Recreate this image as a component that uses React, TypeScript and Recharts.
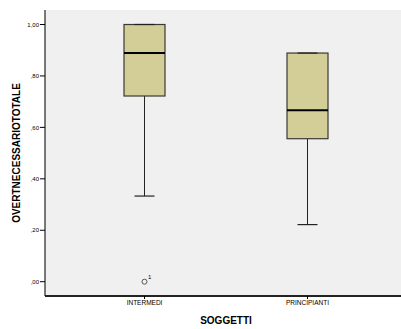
import { ComposedChart, Bar, XAxis, YAxis, CartesianGrid } from "recharts"

const categories = ["INTERMEDI", "PRINCIPIANTI"]
const minValues = [0.333, 0.222]
const q1Values = [0.722, 0.556]
const medianValues = [0.889, 0.667]
const q3Values = [1.0, 0.889]
const maxValues = [1.0, 0.889]
const outliers = [[{ value: 0, label: "1" }], []]
const yTicks = [0, 0.2, 0.4, 0.6, 0.8, 1.0]

const data = categories.map((name, i) => ({
  name,
  min: minValues[i],
  q1: q1Values[i],
  median: medianValues[i],
  q3: q3Values[i],
  max: maxValues[i],
  outliers: outliers[i],
}))

const font = "'Liberation Sans', Arial, sans-serif"

const formatTick = (v: number) => v.toFixed(2).replace(".", ",").replace(/^0/, "")

// the bar spans min..max; every other level is placed on the same pixel scale
function BoxShape(props: any) {
  const { x, y, width, height, payload } = props
  const span = payload.max - payload.min
  const perUnit = span > 0 ? height / span : 0
  const yOf = (v: number) => y + (payload.max - v) * perUnit
  const cx = x + width / 2
  const cap = 10
  return (
    <g>
      <line x1={cx} x2={cx} y1={yOf(payload.max)} y2={yOf(payload.q3)} stroke="#222" />
      <line x1={cx} x2={cx} y1={yOf(payload.q1)} y2={yOf(payload.min)} stroke="#222" />
      <line x1={cx - cap} x2={cx + cap} y1={yOf(payload.min)} y2={yOf(payload.min)} stroke="#222" strokeWidth={1.2} />
      <rect
        x={x}
        y={yOf(payload.q3)}
        width={width}
        height={yOf(payload.q1) - yOf(payload.q3)}
        fill="#d3ce98"
        stroke="#3a3a30"
        strokeWidth={1.2}
      />
      <line x1={cx - cap} x2={cx + cap} y1={yOf(payload.max)} y2={yOf(payload.max)} stroke="#222" strokeWidth={1.2} />
      <line x1={x} x2={x + width} y1={yOf(payload.median)} y2={yOf(payload.median)} stroke="#000" strokeWidth={2} />
      {payload.outliers.map((o: any, i: number) => (
        <g key={i}>
          <circle cx={cx} cy={yOf(o.value)} r={2.5} fill="none" stroke="#333" strokeWidth={0.8} />
          <text x={cx + 3.5} y={yOf(o.value) - 3} fontSize={6} fontFamily={font} fill="#000">
            {o.label}
          </text>
        </g>
      ))}
    </g>
  )
}

export default function App() {
  return (
    <div style={{ position: "absolute", left: 0, top: 0, width: 401, height: 329, overflow: "hidden", background: "#fff" }}>
      <ComposedChart width={407} height={329} data={data} margin={{ top: 10, right: 0, bottom: 0, left: 0 }}>
        <CartesianGrid fill="#f0f0f0" horizontal={false} vertical={false} />
        <XAxis
          dataKey="name"
          padding={{ left: 18, right: 18 }}
          height={33}
          tickSize={3}
          tickMargin={1}
          tick={{ fontSize: 6.5, fill: "#000", fontFamily: font }}
          tickLine={{ stroke: "#000" }}
          axisLine={{ stroke: "#222", strokeWidth: 1.8 }}
          label={{
            value: "SOGGETTI",
            position: "insideBottom",
            offset: 5,
            style: { fontSize: 10, fontWeight: "bold", fill: "#000", fontFamily: font },
          }}
        />
        <XAxis xAxisId="top" orientation="top" dataKey="name" height={0} tick={false} tickLine={false} axisLine={{ stroke: "#555" }} />
        <YAxis
          width={45}
          domain={[-0.0556, 1.0564]}
          allowDataOverflow
          ticks={yTicks}
          tickFormatter={formatTick}
          tickSize={5}
          tickMargin={1}
          tick={{ fontSize: 6, fill: "#000", fontFamily: font }}
          tickLine={{ stroke: "#000" }}
          axisLine={{ stroke: "#222", strokeWidth: 1.2 }}
          label={{
            content: () => (
              <text
                transform="translate(16,153) rotate(-90)"
                textAnchor="middle"
                dominantBaseline="central"
                fontSize={10}
                fontWeight="bold"
                fontFamily={font}
                fill="#000"
              >
                OVERTNECESSARIOTOTALE
              </text>
            ),
          }}
        />
        <Bar dataKey={(d: any) => [d.min, d.max]} barSize={41} shape={<BoxShape />} isAnimationActive={false} />
      </ComposedChart>
    </div>
  )
}
